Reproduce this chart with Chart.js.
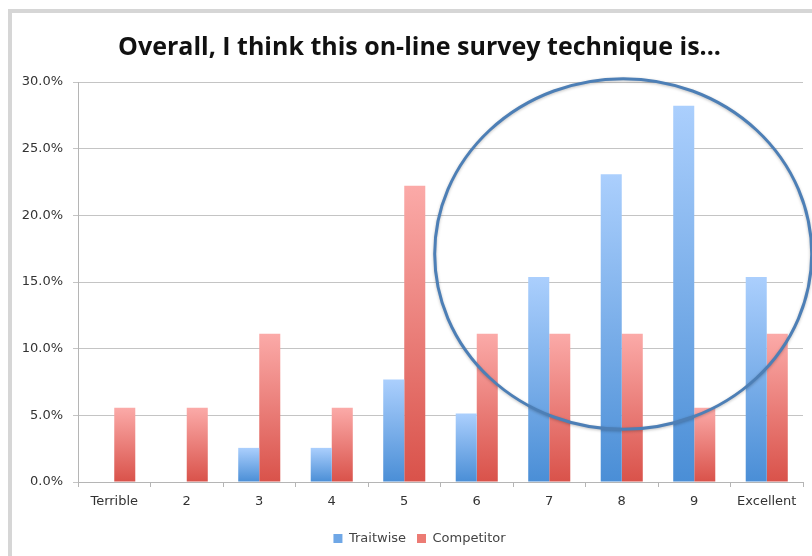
<!DOCTYPE html>
<html>
<head>
<meta charset="utf-8">
<script src="https://cdn.jsdelivr.net/npm/chart.js@4/dist/chart.umd.min.js"></script>
<style>
  html, body { margin: 0; padding: 0; background: #ffffff; }
  #wrap { position: relative; width: 812px; height: 556px; overflow: hidden; }
  #frame {
    position: absolute; left: 8px; top: 9px; width: 900px; height: 700px;
    border-left: 4px solid #d6d6d6; border-top: 4px solid #d6d6d6;
  }
  #chart { position: absolute; left: 0; top: 0; }
</style>
</head>
<body>
<div id="wrap">
  <div id="frame"></div>
  <canvas id="chart" width="812" height="556"></canvas>
</div>
<script>
// Survey answer scale
const categories = ['Terrible', '2', '3', '4', '5', '6', '7', '8', '9', 'Excellent'];

// Share of respondents (%) per answer
const traitwise  = [0, 0, 2.56, 2.56, 7.69, 5.13, 15.38, 23.08, 28.21, 15.38];
const competitor = [5.56, 5.56, 11.11, 5.56, 22.22, 11.11, 11.11, 11.11, 5.56, 11.11];

// Value axis ticks (%)
const yTicks = [0, 5, 10, 15, 20, 25, 30];

// Highlight ring drawn over the upper scores, in axis units
const highlight = { centerIndex: 7.02, centerValue: 17.1, radiusCategories: 2.6, radiusValue: 13.15 };

const TITLE_FONT = "'Open Sans', 'DejaVu Sans', sans-serif";
const LABEL_FONT = "'DejaVu Sans', 'Open Sans', sans-serif";

// Vertical gradient per bar: light at the top, deeper at the base
function barGradient(light, dark) {
  return (ctx) => {
    const chart = ctx.chart;
    const { chartArea, scales } = chart;
    if (!chartArea || ctx.type !== 'data') return dark;
    const v = ctx.raw;
    const top = scales.y.getPixelForValue(v);
    const base = scales.y.getPixelForValue(0);
    if (!isFinite(top) || base - top < 1) return dark;
    const g = chart.ctx.createLinearGradient(0, top, 0, base);
    g.addColorStop(0, light);
    g.addColorStop(1, dark);
    return g;
  };
}

// Let the value-axis labels use the space left of the axis box
const labelRoomPlugin = {
  id: 'labelRoom',
  afterLayout(chart) {
    chart.scales.y.left = 0;
  }
};

const ringPlugin = {
  id: 'ring',
  afterDatasetsDraw(chart) {
    const { ctx, scales } = chart;
    const x = scales.x, y = scales.y;
    const cx = x.getPixelForValue(highlight.centerIndex);
    const cy = y.getPixelForValue(highlight.centerValue);
    const step = x.getPixelForValue(1) - x.getPixelForValue(0);
    const rx = highlight.radiusCategories * step;
    const ry = Math.abs(y.getPixelForValue(highlight.radiusValue) - y.getPixelForValue(0));
    ctx.save();
    ctx.shadowColor = 'rgba(0,0,0,0.25)';
    ctx.shadowBlur = 3;
    ctx.shadowOffsetY = 1;
    ctx.strokeStyle = '#4d7fb6';
    ctx.lineWidth = 3;
    ctx.beginPath();
    ctx.ellipse(cx, cy, rx, ry, 0, 0, Math.PI * 2);
    ctx.stroke();
    ctx.restore();
  }
};

new Chart(document.getElementById('chart'), {
  type: 'bar',
  data: {
    labels: categories,
    datasets: [
      {
        label: 'Traitwise',
        data: traitwise,
        backgroundColor: barGradient('#abcffd', '#4a8ed6'),
        borderWidth: 0,
        categoryPercentage: 0.58,
        barPercentage: 1.0
      },
      {
        label: 'Competitor',
        data: competitor,
        backgroundColor: barGradient('#fbaaa8', '#d9524a'),
        borderWidth: 0,
        categoryPercentage: 0.58,
        barPercentage: 1.0
      }
    ]
  },
  options: {
    responsive: false,
    animation: false,
    devicePixelRatio: 1,
    layout: { padding: { left: 36, right: 9, top: 0, bottom: 1 } },
    plugins: {
      title: {
        display: true,
        text: 'Overall, I think this on-line survey technique is...',
        color: '#111111',
        font: { family: TITLE_FONT, size: 25, weight: 'bold' },
        padding: { top: 33, bottom: 19 }
      },
      legend: {
        position: 'bottom',
        labels: {
          color: '#444444',
          font: { family: LABEL_FONT, size: 13 },
          boxWidth: 9,
          boxHeight: 9,
          padding: 11,
          generateLabels(chart) {
            const solid = ['#6fa7e6', '#ec7b74'];
            return chart.data.datasets.map((ds, i) => ({
              text: ds.label,
              fillStyle: solid[i],
              strokeStyle: solid[i],
              lineWidth: 0,
              fontColor: '#444444',
              datasetIndex: i,
              hidden: false
            }));
          }
        }
      },
      tooltip: { enabled: false }
    },
    scales: {
      x: {
        afterFit(scale) { scale.height = 39; },
        grid: {
          offset: true,
          drawOnChartArea: false,
          drawTicks: true,
          tickLength: 5,
          color: '#b5b5b5'
        },
        border: { color: '#b5b5b5', width: 1 },
        ticks: {
          color: '#333333',
          font: { family: LABEL_FONT, size: 13 },
          padding: 7,
          maxRotation: 0,
          autoSkip: false
        }
      },
      y: {
        min: 0,
        max: 30,
        afterFit(scale) { scale.width = 42; },
        afterBuildTicks(scale) { scale.ticks = yTicks.map(v => ({ value: v })); },
        grid: {
          color: '#c4c4c4',
          tickLength: 5,
          drawTicks: true
        },
        border: { color: '#b5b5b5', width: 1 },
        ticks: {
          color: '#333333',
          font: { family: LABEL_FONT, size: 13 },
          padding: 10,
          callback: (v) => Number(v).toFixed(1) + '%'
        }
      }
    }
  },
  plugins: [labelRoomPlugin, ringPlugin]
});
</script>
</body>
</html>
